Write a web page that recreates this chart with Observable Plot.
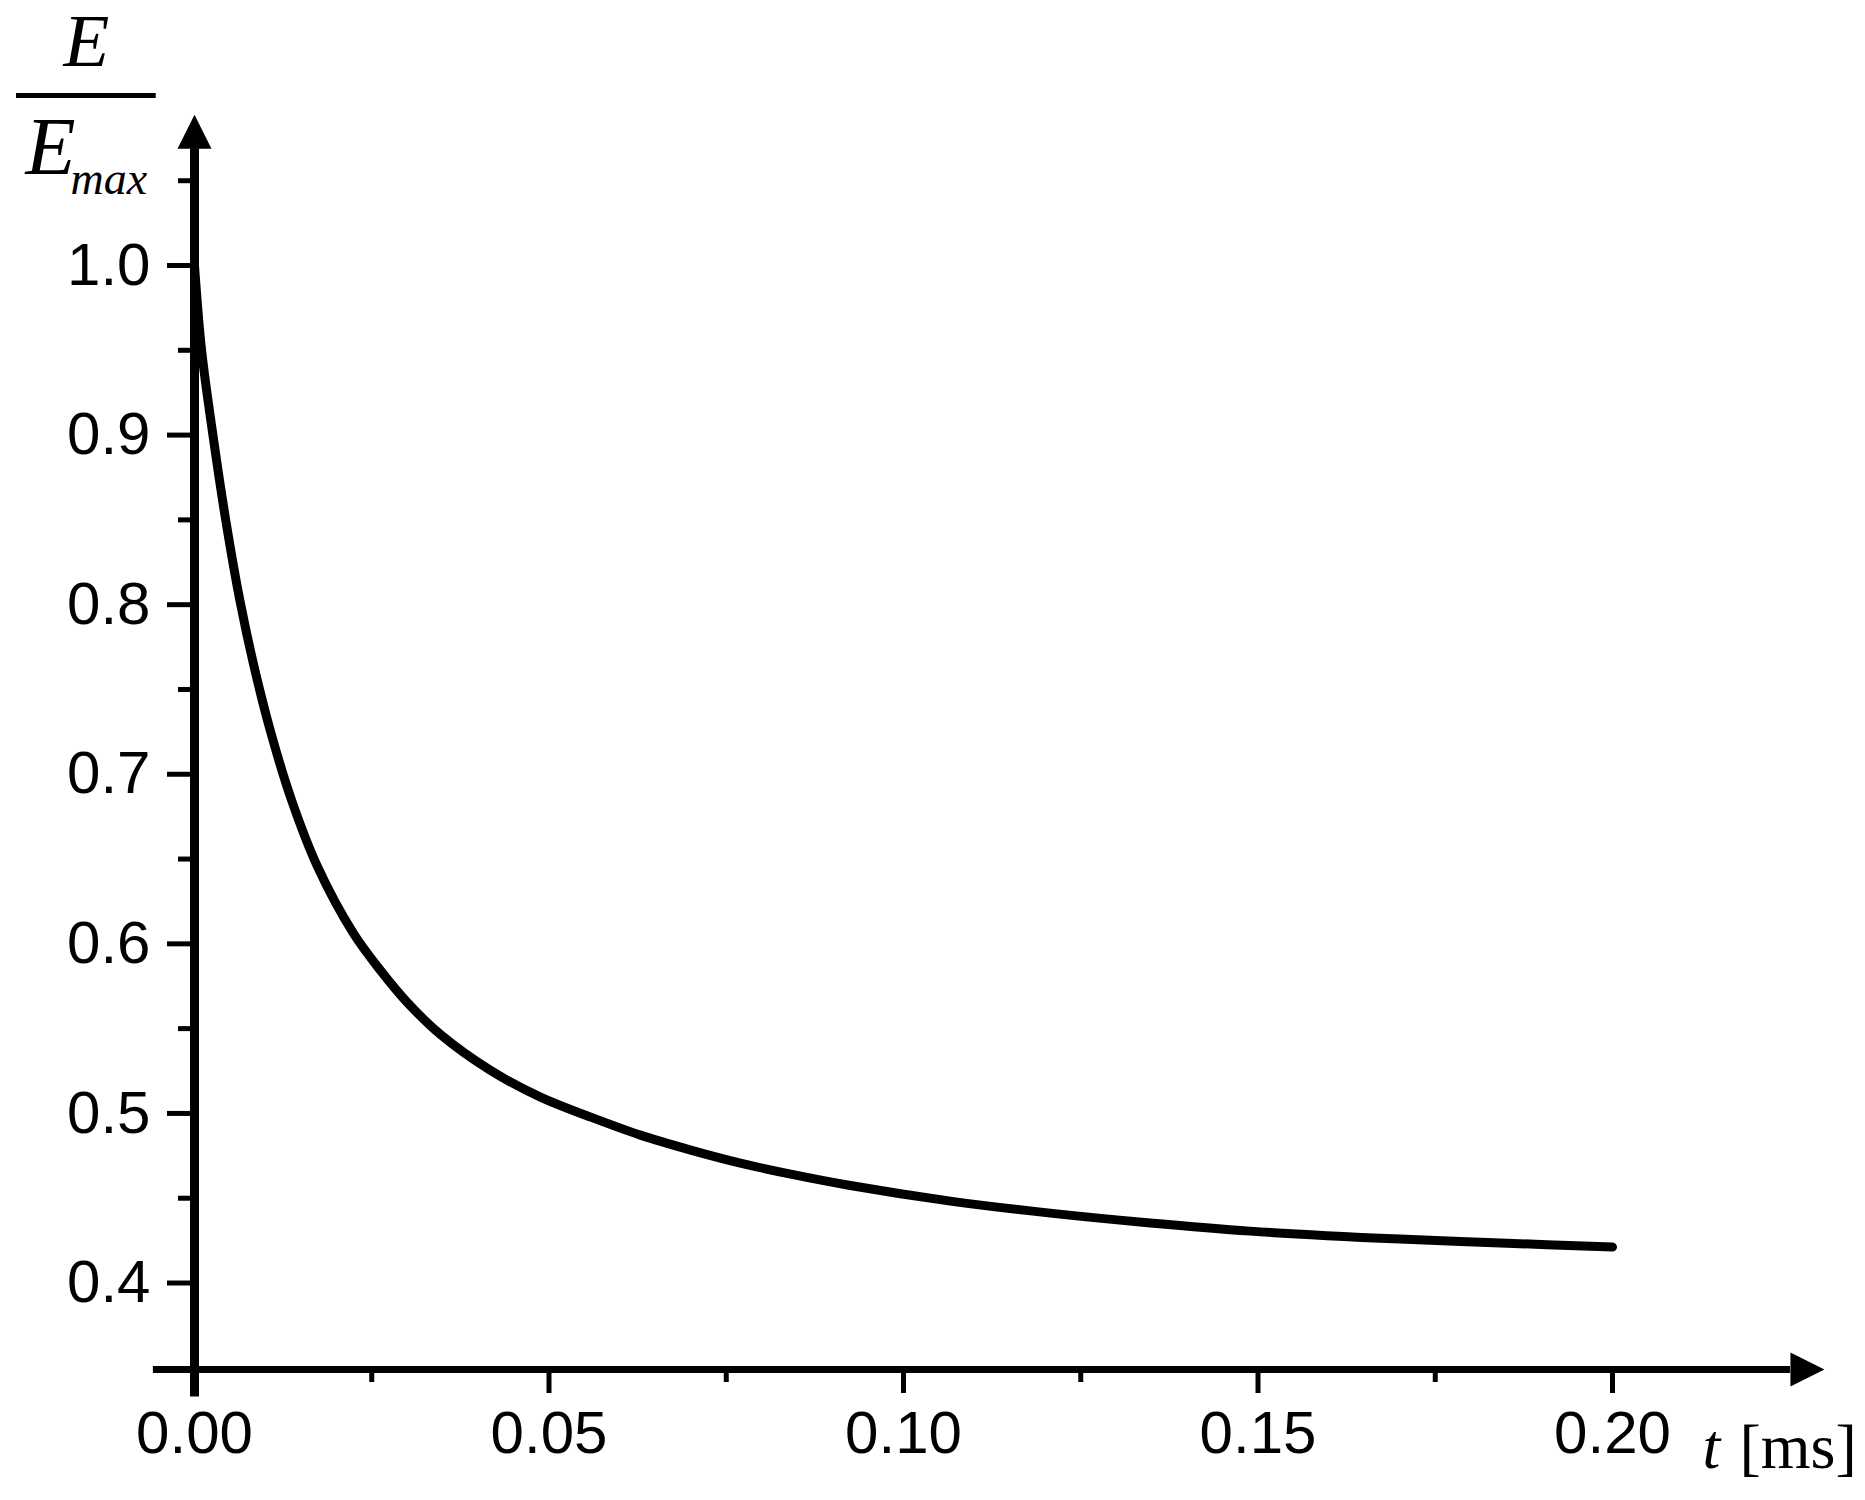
<!DOCTYPE html>
<html><head><meta charset="utf-8">
<script src="https://cdn.jsdelivr.net/npm/d3@7"></script>
<script src="https://cdn.jsdelivr.net/npm/@observablehq/plot@0.6"></script>
<style>html,body{margin:0;padding:0;background:#fff;} svg{display:block}</style>
</head><body><div id="chart"></div>
<script>
// Curve: E/Emax versus t [ms]
const tValues = [0, 0.001, 0.0026, 0.0044, 0.0064, 0.0084, 0.0108, 0.0137, 0.0173, 0.0224,
  0.0262, 0.0300, 0.0347, 0.0417, 0.0488, 0.0559, 0.0629, 0.0700, 0.0770, 0.0841, 0.0925,
  0.1066, 0.1207, 0.1348, 0.1489, 0.170, 0.1842, 0.2];
const energyRatio = [1.0, 0.95, 0.9, 0.85, 0.8025, 0.7635, 0.7241, 0.6846, 0.646, 0.6063,
  0.5845, 0.5655, 0.5465, 0.5255, 0.5096, 0.4978, 0.4872, 0.4784, 0.4707, 0.4642, 0.4575,
  0.4483, 0.4412, 0.4354, 0.4306, 0.4259, 0.4236, 0.4212];

const xTicksMajor = [0, 0.05, 0.10, 0.15, 0.20];
const xTicksMinor = [0.025, 0.075, 0.125, 0.175];
const yTicksMajor = [0.4, 0.5, 0.6, 0.7, 0.8, 0.9, 1.0];
const yTicksMinor = [0.45, 0.55, 0.65, 0.75, 0.85, 0.95, 1.05];
const xDomain = [0, 0.2];
const yDomain = [0.349, 1.0];
const xAxisExtent = [-0.0058, 0.2251];
const yAxisExtent = [0.3328, 1.0688];

const data = tValues.map((t, i) => ({t, e: energyRatio[i]}));
const arrowHead = {draw(ctx) { ctx.moveTo(0, -34); ctx.lineTo(17, 0); ctx.lineTo(-17, 0); ctx.closePath(); }};
const serif = "Liberation Serif, Times New Roman, serif";

const chart = Plot.plot({
  width: 1865, height: 1500,
  marginLeft: 194, marginRight: 253, marginTop: 265, marginBottom: 131,
  x: {domain: xDomain, axis: null},
  y: {domain: yDomain, axis: null},
  style: {fontFamily: "Liberation Sans, Arial, sans-serif", background: "white", color: "black"},
  marks: [
    Plot.line(data, {x: "t", y: "e", strokeWidth: 9, curve: "catmull-rom", stroke: "black"}),
    Plot.ruleX([{x: 0, y1: yAxisExtent[0], y2: yAxisExtent[1]}], {x: "x", y1: "y1", y2: "y2", strokeWidth: 9, stroke: "black"}),
    Plot.ruleY([{y: yDomain[0], x1: xAxisExtent[0], x2: xAxisExtent[1]}], {y: "y", x1: "x1", x2: "x2", strokeWidth: 7, stroke: "black"}),
    Plot.dot([{x: 0, y: yAxisExtent[1]}], {x: "x", y: "y", symbol: arrowHead, fill: "black", stroke: "none", r: 10}),
    Plot.dot([{x: xAxisExtent[1], y: yDomain[0]}], {x: "x", y: "y", symbol: arrowHead, rotate: 90, fill: "black", stroke: "none", r: 10}),
    Plot.axisY(yTicksMajor, {tickSize: 27, tickPadding: 17, strokeWidth: 5, fontSize: 60, tickFormat: d3.format(".1f"), label: null}),
    Plot.axisY(yTicksMinor, {tickSize: 16, strokeWidth: 5, fill: "none", label: null}),
    Plot.axisX(xTicksMajor, {tickSize: 24, tickPadding: 17, strokeWidth: 5, fontSize: 60, tickFormat: d3.format(".2f"), label: null}),
    Plot.axisX(xTicksMinor, {tickSize: 13, strokeWidth: 5, fill: "none", label: null}),
    // y label: E / E_max
    Plot.text(["E"], {text: d => d, frameAnchor: "top-left", dx: -108, dy: -200, fontSize: 75, fontStyle: "italic", fontFamily: serif, textAnchor: "middle", lineAnchor: "bottom"}),
    Plot.ruleY([{y: 1.1002, x1: -0.0251, x2: -0.0054}], {y: "y", x1: "x1", x2: "x2", strokeWidth: 5, stroke: "black"}),
    Plot.text(["E"], {text: d => d, frameAnchor: "top-left", dx: -169, dy: -92, fontSize: 82, fontStyle: "italic", fontFamily: serif, textAnchor: "start", lineAnchor: "bottom"}),
    Plot.text(["max"], {text: d => d, frameAnchor: "top-left", dx: -124, dy: -72, fontSize: 46, fontStyle: "italic", fontFamily: serif, textAnchor: "start", lineAnchor: "bottom"}),
    // x label: t [ms]
    Plot.text(["t"], {text: d => d, frameAnchor: "bottom-right", dx: 90, dy: 98, fontSize: 64, fontStyle: "italic", fontFamily: serif, textAnchor: "start", lineAnchor: "bottom"}),
    Plot.text(["[ms]"], {text: d => d, frameAnchor: "bottom-right", dx: 127, dy: 98, fontSize: 64, fontFamily: serif, textAnchor: "start", lineAnchor: "bottom"})
  ]
});
document.getElementById("chart").appendChild(chart);
</script>
</body></html>
